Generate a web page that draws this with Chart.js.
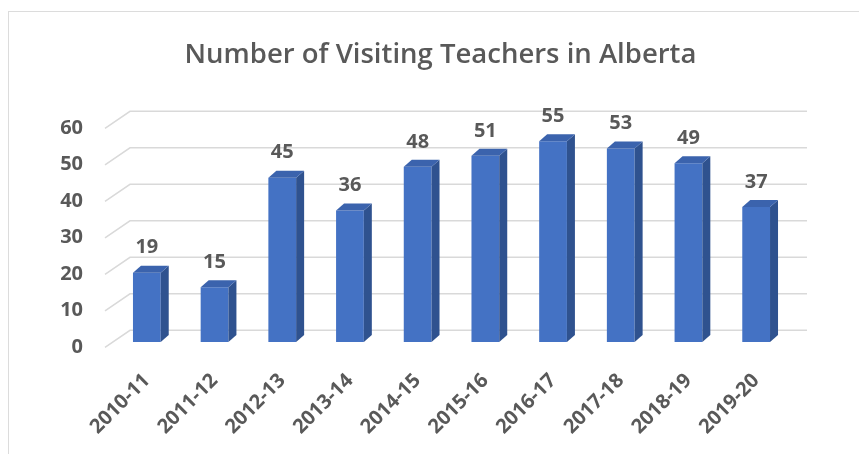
<!DOCTYPE html>
<html>
<head>
<meta charset="utf-8">
<script src="https://cdn.jsdelivr.net/npm/chart.js@4.4.1/dist/chart.umd.min.js"></script>
<style>
  html, body { margin: 0; padding: 0; background: #fff; overflow: hidden; width: 859px; height: 454px; }
  #wrap { position: absolute; left: 8px; top: 11px; width: 863px; height: 443px;
          border-left: 1px solid #dcdcdc; border-top: 1px solid #dcdcdc; }
</style>
</head>
<body>
<div id="wrap"><canvas id="chart"></canvas></div>
<script>
  // data
  const years = ['2010-11','2011-12','2012-13','2013-14','2014-15','2015-16','2016-17','2017-18','2018-19','2019-20'];
  const teachers = [19, 15, 45, 36, 48, 51, 55, 53, 49, 37];
  const yTicks = [0, 10, 20, 30, 40, 50, 60];
  const titleText = 'Number of Visiting Teachers in Alberta';

  const TEXT = '#595959';
  const GRID = '#d9d9d9';
  const FRONT = '#4472c4';
  const SIDE = '#2f528f';
  const TOP = '#3b63ad';
  const DX = 8, DY = 7;          // bar depth
  const BACK_X = 25, BACK_Y = 17; // grid slant
  const tickFont = { family: 'Open Sans', size: 20, weight: '700' };

  // title centred on the whole chart frame (the frame runs past the right edge)
  const titlePlugin = {
    id: 'frameTitle',
    afterDraw(chart) {
      const { ctx, width } = chart;
      ctx.save();
      ctx.fillStyle = TEXT;
      ctx.font = '600 27.5px "Open Sans"';
      ctx.textAlign = 'center';
      ctx.textBaseline = 'middle';
      ctx.fillText(titleText, width / 2, 43);
      ctx.restore();
    }
  };

  // perspective gridlines, drawn behind the bars
  const gridPlugin = {
    id: 'grid3d',
    beforeDatasetsDraw(chart) {
      const { ctx, scales: { y }, chartArea } = chart;
      ctx.save();
      ctx.strokeStyle = GRID;
      ctx.lineWidth = 1.5;
      yTicks.forEach(v => {
        const yb = y.getPixelForValue(v);
        const fy = yb + 5.3, by = fy - BACK_Y;
        const fx = chartArea.left - 8;
        ctx.beginPath();
        ctx.moveTo(fx, fy);
        ctx.lineTo(fx + BACK_X, by);
        ctx.lineTo(chartArea.right + 17, by);
        ctx.stroke();
      });
      ctx.restore();
    }
  };

  // side and top faces plus value labels
  const barPlugin = {
    id: 'bar3d',
    afterDatasetsDraw(chart) {
      const { ctx } = chart;
      const meta = chart.getDatasetMeta(0);
      ctx.save();
      meta.data.forEach((bar, i) => {
        const l = bar.x - bar.width / 2, r = bar.x + bar.width / 2;
        const t = bar.y, b = bar.base;
        ctx.fillStyle = SIDE;
        ctx.beginPath();
        ctx.moveTo(r, t); ctx.lineTo(r + DX, t - DY); ctx.lineTo(r + DX, b - DY); ctx.lineTo(r, b);
        ctx.closePath(); ctx.fill();
        ctx.fillStyle = TOP;
        ctx.beginPath();
        ctx.moveTo(l, t); ctx.lineTo(l + DX, t - DY); ctx.lineTo(r + DX, t - DY); ctx.lineTo(r, t);
        ctx.closePath(); ctx.fill();

        ctx.fillStyle = TEXT;
        ctx.font = '700 20px "Open Sans"';
        ctx.textAlign = 'center';
        ctx.textBaseline = 'middle';
        ctx.fillText(String(teachers[i]), bar.x, t - 25);
      });
      ctx.restore();
    }
  };

  new Chart(document.getElementById('chart'), {
    type: 'bar',
    data: {
      labels: years,
      datasets: [{
        label: 'Visiting Teachers',
        data: teachers,
        backgroundColor: FRONT,
        borderWidth: 0,
        categoryPercentage: 1,
        barPercentage: 0.41
      }]
    },
    options: {
      responsive: true,
      maintainAspectRatio: false,
      animation: false,
      layout: { padding: { left: 0, right: 82, top: 111, bottom: 0 } },
      plugins: {
        legend: { display: false },
        tooltip: { enabled: false },
        title: { display: false }
      },
      scales: {
        y: {
          min: 0, max: 60,
          afterFit: s => { s.width = 104; },
          afterBuildTicks: s => { s.ticks = yTicks.map(v => ({ value: v })); },
          border: { display: false },
          grid: { display: false, drawTicks: false },
          ticks: { color: TEXT, padding: 30, labelOffset: 5, font: tickFont }
        },
        x: {
          afterFit: s => { s.height = 113; },
          border: { display: false },
          grid: { display: false, drawTicks: false },
          ticks: { color: TEXT, padding: 27, minRotation: 45, maxRotation: 45, autoSkip: false, font: tickFont }
        }
      }
    },
    plugins: [gridPlugin, barPlugin, titlePlugin]
  });
</script>
</body>
</html>
